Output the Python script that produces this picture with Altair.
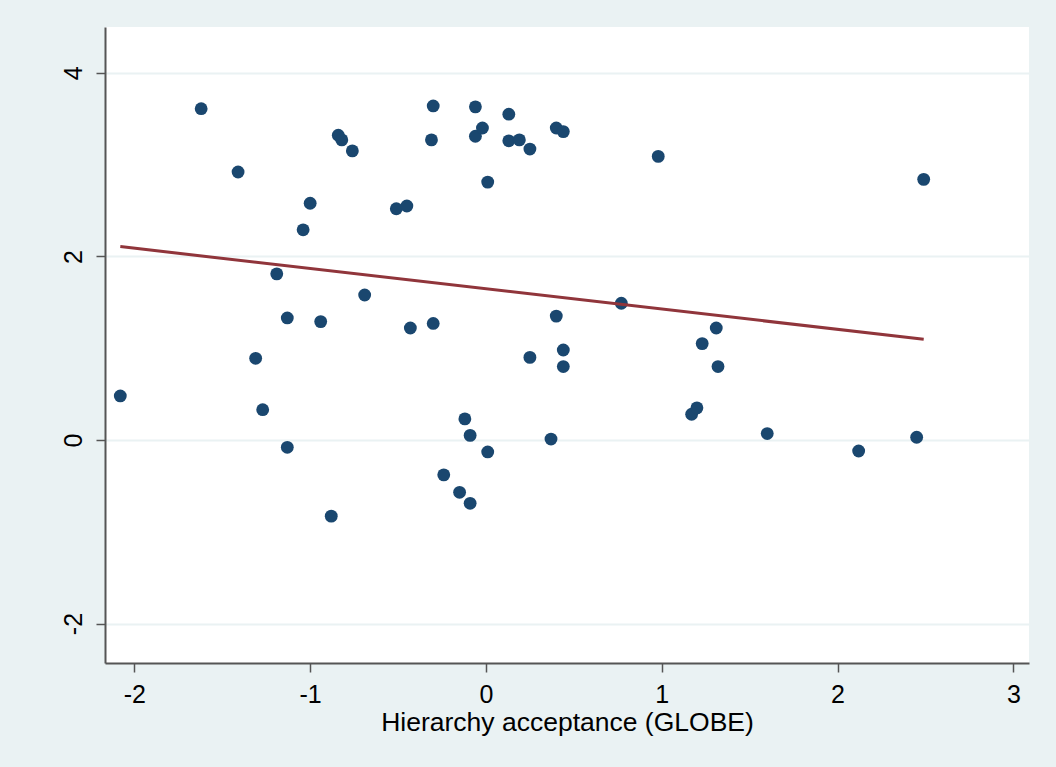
import altair as alt
import pandas as pd

# Country scores: hierarchy acceptance (GLOBE) against the outcome measure
hierarchy = [
    -2.08, -1.62, -1.41, -1.19, -1.31, -1.27, -1.13, -1.13, -1.00, -1.04,
    -0.94, -0.88, -0.84, -0.82, -0.76, -0.69, -0.51, -0.45, -0.43, -0.31,
    -0.30, -0.30, -0.12, -0.24, -0.15, -0.09, -0.09, -0.06, -0.06, -0.02,
    0.01, 0.01, 0.13, 0.13, 0.19, 0.25, 0.25, 0.37, 0.40, 0.44,
    0.40, 0.44, 0.44, 0.77, 0.98, 1.17, 1.20, 1.23, 1.31, 1.32,
    1.60, 2.12, 2.45, 2.49,
]
outcome = [
    0.48, 3.61, 2.92, 1.81, 0.89, 0.33, 1.33, -0.08, 2.58, 2.29,
    1.29, -0.83, 3.32, 3.27, 3.15, 1.58, 2.52, 2.55, 1.22, 3.27,
    3.64, 1.27, 0.23, -0.38, -0.57, 0.05, -0.69, 3.63, 3.31, 3.40,
    2.81, -0.13, 3.55, 3.26, 3.27, 3.17, 0.90, 0.01, 3.40, 3.36,
    1.35, 0.98, 0.80, 1.49, 3.09, 0.28, 0.35, 1.05, 1.22, 0.80,
    0.07, -0.12, 0.03, 2.84,
]

x_ticks = [-2, -1, 0, 1, 2, 3]
y_ticks = [-2, 0, 2, 4]

df = pd.DataFrame({"x": hierarchy, "y": outcome})

FONT = "Liberation Sans"
# plain hyphen for negative tick labels
PLAIN_LABEL = "datum.value + ''"

x_enc = alt.X(
    "x:Q",
    title="Hierarchy acceptance (GLOBE)",
    scale=alt.Scale(domain=[-2.167, 3.089], nice=False, zero=False),
    axis=alt.Axis(
        values=x_ticks, grid=False, tickSize=9, labelPadding=10,
        labelFontSize=25, titleFontSize=26.5, titlePadding=2,
        titleFontWeight="normal", labelExpr=PLAIN_LABEL,
    ),
)
y_enc = alt.Y(
    "y:Q",
    title=None,
    scale=alt.Scale(domain=[-2.43, 4.5], nice=False, zero=False),
    axis=alt.Axis(
        values=y_ticks, grid=True, gridColor="#eaf2f3", gridWidth=2,
        tickSize=9, labelPadding=10, labelAngle=270, labelFontSize=25,
        labelExpr=PLAIN_LABEL,
    ),
)

points = alt.Chart(df).mark_circle(
    size=165, color="#1a476f", opacity=1
).encode(x=x_enc, y=y_enc)

fit = alt.Chart(df).transform_regression(
    "x", "y", method="linear"
).mark_line(color="#90353b", strokeWidth=3).encode(x=x_enc, y=y_enc)

chart = (
    alt.layer(points, fit)
    .properties(
        width=924,
        height=636,
        background="#eaf2f3",
        padding={"left": 105, "top": 27, "right": 27, "bottom": 104},
        autosize=alt.AutoSizeParams(type="none"),
    )
    .configure_view(fill="white", stroke=None)
    .configure_axis(
        domainColor="#555555", domainWidth=2, tickColor="#555555",
        tickWidth=1.5, labelColor="#000000", titleColor="#000000",
        labelFont=FONT, titleFont=FONT,
    )
)

chart.save("out.html", embed_options={"renderer": "svg", "actions": False})
